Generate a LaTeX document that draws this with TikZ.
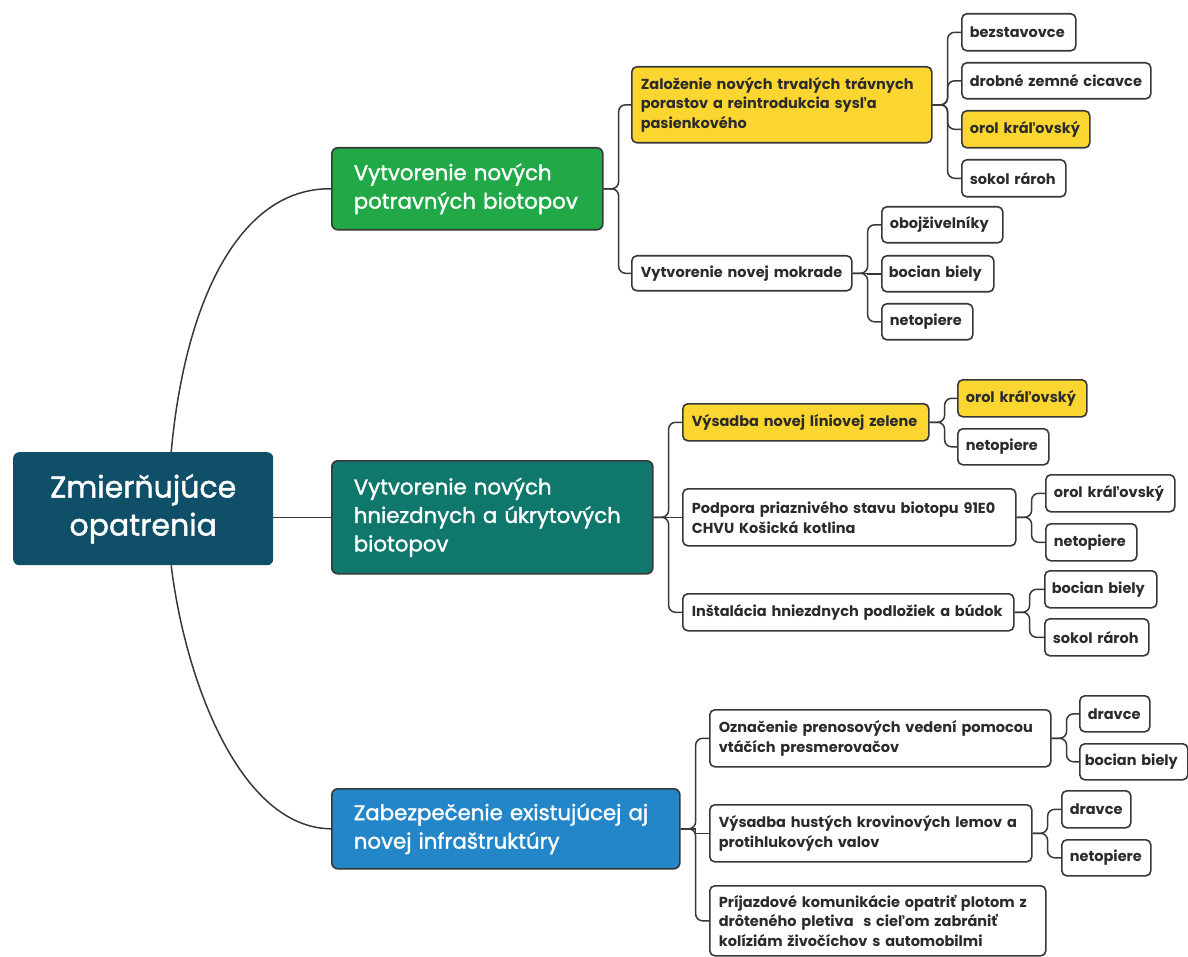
\documentclass[tikz,border=0pt]{standalone}
\usepackage{fontspec}
\setmainfont{Poppins}
\newfontfamily\mmmed{Poppins}[FakeBold=1.5]
\definecolor{rootc}{HTML}{0F4F68}
\definecolor{greenc}{HTML}{21A847}
\definecolor{tealc}{HTML}{0F776B}
\definecolor{bluec}{HTML}{2386C9}
\definecolor{yelc}{HTML}{FBD631}
\definecolor{linec}{HTML}{383838}
\definecolor{txtc}{HTML}{2B2B2B}
\newcommand\mmnode[8]{%
  \pgfmathsetmacro\mmw{#4-#2}\pgfmathsetmacro\mmh{#5-#3}\pgfmathsetmacro\mmtw{#4-#2-2*#6}%
  \node[#7,anchor=north west,minimum width=\mmw pt,minimum height=\mmh pt,inner xsep=#6pt,text width=\mmtw pt] (#1) at (#2,#3) {#8};}
\newcommand\mmbr[2]{\draw[conn] (#1.east) -- ++(15,0) |- (#2.west);}
\newcommand\mmbrs[2]{\draw[conn,rounded corners=0pt] (#1.east) -- ++(15,0) |- (#2.west);}
\begin{document}
\begin{tikzpicture}[x=1pt,y=-1pt,
  leaf/.style={draw=linec,line width=1.6pt,rounded corners=5pt,fill=white,text=txtc,
    font=\bfseries\fontsize{14.5}{19.5}\selectfont,align=left,inner ysep=1pt},
  yleaf/.style={leaf,fill=yelc},
  topic/.style={draw=linec,line width=1.6pt,rounded corners=6pt,text=white,
    font=\mmmed\fontsize{21.3}{28.5}\selectfont,align=left,inner ysep=1pt},
  conn/.style={draw=linec,line width=1.5pt,rounded corners=7pt},
  curve/.style={draw=linec,line width=1.5pt}]
\useasboundingbox (0,0) rectangle (1188,957);
% root
\node[fill=rootc,rounded corners=6pt,text=white,anchor=north west,minimum width=260pt,minimum height=113pt,
  align=center,font=\mmmed\fontsize{30}{38}\selectfont] (root) at (13,452) {Zmierňujúce\\opatrenia};
% level 1
\mmnode{g1}{331}{147}{602}{229}{22}{topic,fill=greenc}{Vytvorenie nových\\potravných biotopov}
\mmnode{g2}{331}{460}{652}{573}{22}{topic,fill=tealc}{Vytvorenie nových\\hniezdnych a úkrytových\\biotopov}
\mmnode{g3}{331}{788}{679}{868}{22}{topic,fill=bluec}{Zabezpečenie existujúcej aj\\novej infraštruktúry}
% level 2
\mmnode{a1}{631}{66}{931}{142}{9}{yleaf}{Založenie nových trvalých trávnych\\porastov a reintrodukcia sysľa\\pasienkového}
\mmnode{a2}{631}{255}{851}{290}{9}{leaf}{Vytvorenie novej mokrade}
\mmnode{b1}{682}{403}{928}{440}{9}{yleaf}{Výsadba novej líniovej zelene}
\mmnode{b2}{682}{488}{1015}{545}{9}{leaf}{Podpora priaznivého stavu biotopu 91E0\\CHVU Košická kotlina}
\mmnode{b3}{682}{593}{1013}{630}{9}{leaf}{Inštalácia hniezdnych podložiek a búdok}
\mmnode{c1}{709}{709}{1050}{766}{9}{leaf}{Označenie prenosových vedení pomocou\\vtáčích presmerovačov}
\mmnode{c2}{709}{804}{1031}{861}{9}{leaf}{Výsadba hustých krovinových lemov a\\protihlukových valov}
\mmnode{c3}{709}{885}{1045}{955}{9}{leaf}{Príjazdové komunikácie opatriť plotom z\\drôteného pletiva\ \ s cieľom zabrániť\\kolíziám živočíchov s automobilmi}
% level 3
\mmnode{a11}{961}{13}{1075}{50}{8}{leaf}{bezstavovce}
\mmnode{a12}{961}{62}{1150}{98}{8}{leaf}{drobné zemné cicavce}
\mmnode{a13}{961}{110}{1089}{147}{8}{yleaf}{orol kráľovský}
\mmnode{a14}{961}{159}{1065}{196}{8}{leaf}{sokol rároh}
\mmnode{a21}{881}{206}{1002}{242}{8}{leaf}{obojživelníky}
\mmnode{a22}{881}{255}{993}{291}{7}{leaf}{bocian biely}
\mmnode{a23}{881}{303}{972}{339}{8}{leaf}{netopiere}
\mmnode{b11}{957}{379}{1086}{416}{8}{yleaf}{orol kráľovský}
\mmnode{b12}{957}{428}{1048}{464}{8}{leaf}{netopiere}
\mmnode{b21}{1045}{474}{1174}{511}{8}{leaf}{orol kráľovský}
\mmnode{b22}{1045}{523}{1136}{560}{8}{leaf}{netopiere}
\mmnode{b31}{1044}{570}{1156}{607}{7}{leaf}{bocian biely}
\mmnode{b32}{1044}{618}{1148}{655}{8}{leaf}{sokol rároh}
\mmnode{c11}{1079}{695}{1149}{731}{8}{leaf}{dravce}
\mmnode{c12}{1079}{743}{1187}{779}{5}{leaf}{bocian biely}
\mmnode{c21}{1061}{790}{1130}{827}{8}{leaf}{dravce}
\mmnode{c22}{1061}{839}{1150}{875}{8}{leaf}{netopiere}
% root connectors
\draw[curve] ([xshift=28pt]root.north) .. controls (185,300) and (240,187.5) .. (g1.west);
\draw[curve] (g2.west -| root.east) -- (g2.west);
\draw[curve] ([xshift=28pt]root.south) .. controls (185,680) and (240,828) .. (g3.west);
% branches
\mmbr{g1}{a1}\mmbr{g1}{a2}
\mmbr{g2}{b1}\mmbrs{g2}{b2}\mmbr{g2}{b3}
\mmbr{g3}{c1}\mmbrs{g3}{c2}\mmbr{g3}{c3}
\mmbr{a1}{a11}\mmbr{a1}{a12}\mmbr{a1}{a13}\mmbr{a1}{a14}
\mmbr{a2}{a21}\mmbrs{a2}{a22}\mmbr{a2}{a23}
\mmbr{b1}{b11}\mmbr{b1}{b12}
\mmbr{b2}{b21}\mmbr{b2}{b22}
\mmbr{b3}{b31}\mmbr{b3}{b32}
\mmbr{c1}{c11}\mmbr{c1}{c12}
\mmbr{c2}{c21}\mmbr{c2}{c22}
\end{tikzpicture}
\end{document}
